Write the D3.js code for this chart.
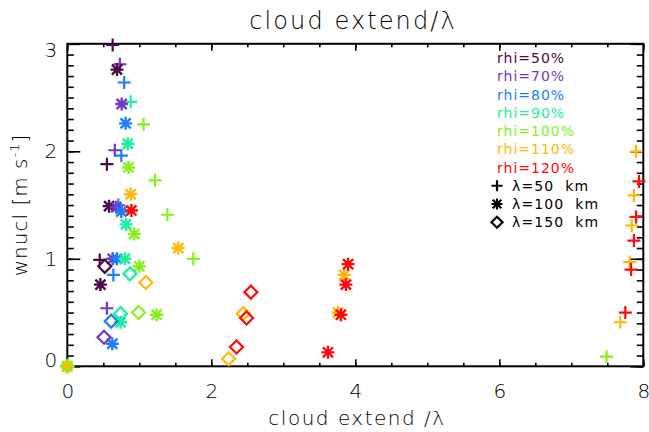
<!DOCTYPE html>
<html>
<head>
<meta charset="utf-8">
<script src="https://cdn.jsdelivr.net/npm/d3@7"></script>
<style>
  html, body { margin: 0; padding: 0; background: #fff; }
  svg { display: block; font-family: "DejaVu Sans", sans-serif; }
</style>
</head>
<body>
<svg id="chart" width="649" height="432"></svg>
<script>
// ---------------- data ----------------
const xTickValues = [0, 2, 4, 6, 8];
const yTickValues = [0, 1, 2, 3];
const rhiLabels = ["rhi=50%", "rhi=70%", "rhi=80%", "rhi=90%", "rhi=100%", "rhi=110%", "rhi=120%"];
const lambdaValues = [50, 100, 150];
const lambdaLabels = ["λ=50 km", "λ=100 km", "λ=150 km"];

// each point: [lambda (km), cloud extend / lambda, wnucl (m/s)]
const rhi50 = [
  [50, 0.63, 2.99], [50, 0.55, 1.88], [50, 0.45, 0.99],
  [100, 0.69, 2.76], [100, 0.58, 1.49], [100, 0.46, 0.76],
  [150, 0.52, 0.93]
];
const rhi70 = [
  [50, 0.73, 2.81], [50, 0.66, 2.01], [50, 0.55, 0.54],
  [100, 0.755, 2.44], [100, 0.68, 1.48], [100, 0.63, 1.00],
  [150, 0.51, 0.27]
];
const rhi80 = [
  [50, 0.79, 2.64], [50, 0.75, 1.96], [50, 0.71, 1.50], [50, 0.64, 0.85],
  [100, 0.81, 2.26], [100, 0.75, 1.44], [100, 0.69, 1.00], [100, 0.625, 0.21],
  [150, 0.61, 0.42]
];
const rhi90 = [
  [50, 0.88, 2.46],
  [100, 0.84, 2.07], [100, 0.815, 1.32], [100, 0.80, 1.00], [100, 0.74, 0.41],
  [150, 0.87, 0.86], [150, 0.74, 0.49]
];
const rhi100 = [
  [50, 1.06, 2.25], [50, 1.22, 1.73], [50, 1.39, 1.41], [50, 1.75, 1.00], [50, 7.49, 0.09],
  [100, 0.85, 1.85], [100, 0.93, 1.23], [100, 1.00, 0.93], [100, 1.24, 0.48], [100, 0.0, 0.0],
  [150, 0.99, 0.50], [150, 0.0, 0.0]
];
const rhi110 = [
  [50, 7.90, 2.00], [50, 7.87, 1.59], [50, 7.84, 1.31], [50, 7.81, 0.97], [50, 7.68, 0.41],
  [100, 0.88, 1.60], [100, 1.54, 1.10], [100, 3.845, 0.85], [100, 3.76, 0.50], [100, 0.0, 0.0],
  [150, 1.09, 0.78], [150, 2.445, 0.49], [150, 2.24, 0.07]
];
const rhi120 = [
  [50, 7.94, 1.72], [50, 7.90, 1.39], [50, 7.87, 1.17], [50, 7.83, 0.90], [50, 7.75, 0.50],
  [100, 0.89, 1.45], [100, 3.90, 0.95], [100, 3.87, 0.76], [100, 3.80, 0.48], [100, 3.62, 0.13],
  [150, 2.55, 0.69], [150, 2.49, 0.45], [150, 2.35, 0.18]
];
const seriesData = [rhi50, rhi70, rhi80, rhi90, rhi100, rhi110, rhi120];

// ---------------- styles ----------------
const colors = ["#4c0a46", "#7236c8", "#1e7cff", "#1cf0a0", "#86f01a", "#ffb80a", "#ff0a0a"];
const R = 6.5;
const symbolPaths = {
  50: `M${-R},0H${R}M0,${-R}V${R}`,
  100: `M${-R},0H${R}M0,${-R}V${R}M${-R*0.78},${-R*0.78}L${R*0.78},${R*0.78}M${-R*0.78},${R*0.78}L${R*0.78},${-R*0.78}`,
  150: `M0,${-R}L${R},0L0,${R}L${-R},0Z`
};

const svg = d3.select("#chart");
const mLeft = 67.3, mRight = 643.3, mTop = 43.8, mBottom = 366.3;
const x = d3.scaleLinear().domain([0, 8]).range([mLeft, mRight]);
const y = d3.scaleLinear().domain([0, 3]).range([mBottom, mTop]);

const fontTick = 20;

function styleAxis(g) {
  g.select(".domain").remove();
  g.selectAll(".tick line").attr("stroke", "#000").attr("stroke-width", 1.6);
  g.selectAll("text").attr("font-size", fontTick).attr("fill", "#000")
    .attr("font-family", "DejaVu Sans, sans-serif").style("font-weight", 200);
}

svg.append("g").attr("transform", `translate(0,${mBottom})`)
  .call(d3.axisBottom(x).tickValues(xTickValues).tickSize(-7).tickPadding(18).tickFormat(d3.format("d")))
  .call(styleAxis);
svg.append("g").attr("transform", `translate(0,${mBottom})`)
  .call(d3.axisBottom(x).tickValues(d3.range(0, 8.001, 0.5)).tickSize(-3.5).tickFormat(""))
  .call(styleAxis);
svg.append("g").attr("transform", `translate(0,${mTop})`)
  .call(d3.axisTop(x).tickValues(xTickValues).tickSize(-7).tickFormat(""))
  .call(styleAxis);
svg.append("g").attr("transform", `translate(0,${mTop})`)
  .call(d3.axisTop(x).tickValues(d3.range(0, 8.001, 0.5)).tickSize(-3.5).tickFormat(""))
  .call(styleAxis);

const yl = svg.append("g").attr("transform", `translate(${mLeft},0)`)
  .call(d3.axisLeft(y).tickValues(yTickValues).tickSize(-13).tickPadding(10).tickFormat(d3.format("d")))
  .call(styleAxis);
yl.selectAll(".tick text").attr("dy", d => d === 3 ? "0.62em" : (d === 0 ? "0.02em" : "0.32em"));
svg.append("g").attr("transform", `translate(${mLeft},0)`)
  .call(d3.axisLeft(y).tickValues(d3.range(0, 3.001, 0.1)).tickSize(-6.5).tickFormat(""))
  .call(styleAxis);
svg.append("g").attr("transform", `translate(${mRight},0)`)
  .call(d3.axisRight(y).tickValues(yTickValues).tickSize(-13).tickFormat(""))
  .call(styleAxis);
svg.append("g").attr("transform", `translate(${mRight},0)`)
  .call(d3.axisRight(y).tickValues(d3.range(0, 3.001, 0.1)).tickSize(-6.5).tickFormat(""))
  .call(styleAxis);

// frame
svg.append("rect").attr("x", mLeft).attr("y", mTop)
  .attr("width", mRight - mLeft).attr("height", mBottom - mTop)
  .attr("fill", "none").attr("stroke", "#000").attr("stroke-width", 2);

// points: drawn by lambda, then by rhi
const pts = svg.append("g");
lambdaValues.forEach(lam => {
  seriesData.forEach((series, i) => {
    pts.selectAll(null)
      .data(series.filter(d => d[0] === lam))
      .enter().append("path")
      .attr("d", symbolPaths[lam])
      .attr("transform", d => `translate(${x(d[1])},${y(d[2])})`)
      .attr("fill", "none")
      .attr("stroke", colors[i])
      .attr("stroke-width", lam === 100 ? 2.4 : 2.2);
  });
});

// legend
const legX = 497, legY0 = 58, legDY = 18.25;
const leg = svg.append("g");
rhiLabels.forEach((t, i) => {
  leg.append("text").attr("x", legX).attr("y", legY0 + i * legDY).attr("dy", "0.36em")
    .attr("font-size", 14).attr("letter-spacing", 1.0).style("font-weight", 400)
    .attr("fill", colors[i]).text(t);
});
lambdaLabels.forEach((t, j) => {
  const yy = legY0 + (rhiLabels.length + j) * legDY;
  leg.append("path").attr("d", symbolPaths[lambdaValues[j]])
    .attr("transform", `translate(${legX},${yy}) scale(0.85)`)
    .attr("fill", "none").attr("stroke", "#000").attr("stroke-width", 2.6);
  leg.append("text").attr("x", legX + 15).attr("y", yy).attr("dy", "0.36em")
    .attr("font-size", 14).attr("letter-spacing", 1.1).style("font-weight", 400)
    .attr("fill", "#000").style("white-space", "pre").text(t.replace(" ", "  "));
});

// titles
svg.append("text").attr("x", 353).attr("y", 29).attr("text-anchor", "middle")
  .attr("font-size", 24).attr("letter-spacing", 2.1).style("font-weight", 200)
  .text("cloud extend/λ");
svg.append("text").attr("x", 357).attr("y", 425).attr("text-anchor", "middle")
  .attr("font-size", 20).attr("letter-spacing", 1.5).style("font-weight", 200)
  .text("cloud extend /λ");
const yt = svg.append("text").attr("transform", "translate(27,205) rotate(-90)")
  .attr("text-anchor", "middle").attr("font-size", 20).attr("letter-spacing", 1.0)
  .style("font-weight", 200);
yt.append("tspan").text("wnucl [m s");
yt.append("tspan").attr("dy", -8).attr("font-size", 13).text("-1");
yt.append("tspan").attr("dy", 8).text("]");
</script>
</body>
</html>
